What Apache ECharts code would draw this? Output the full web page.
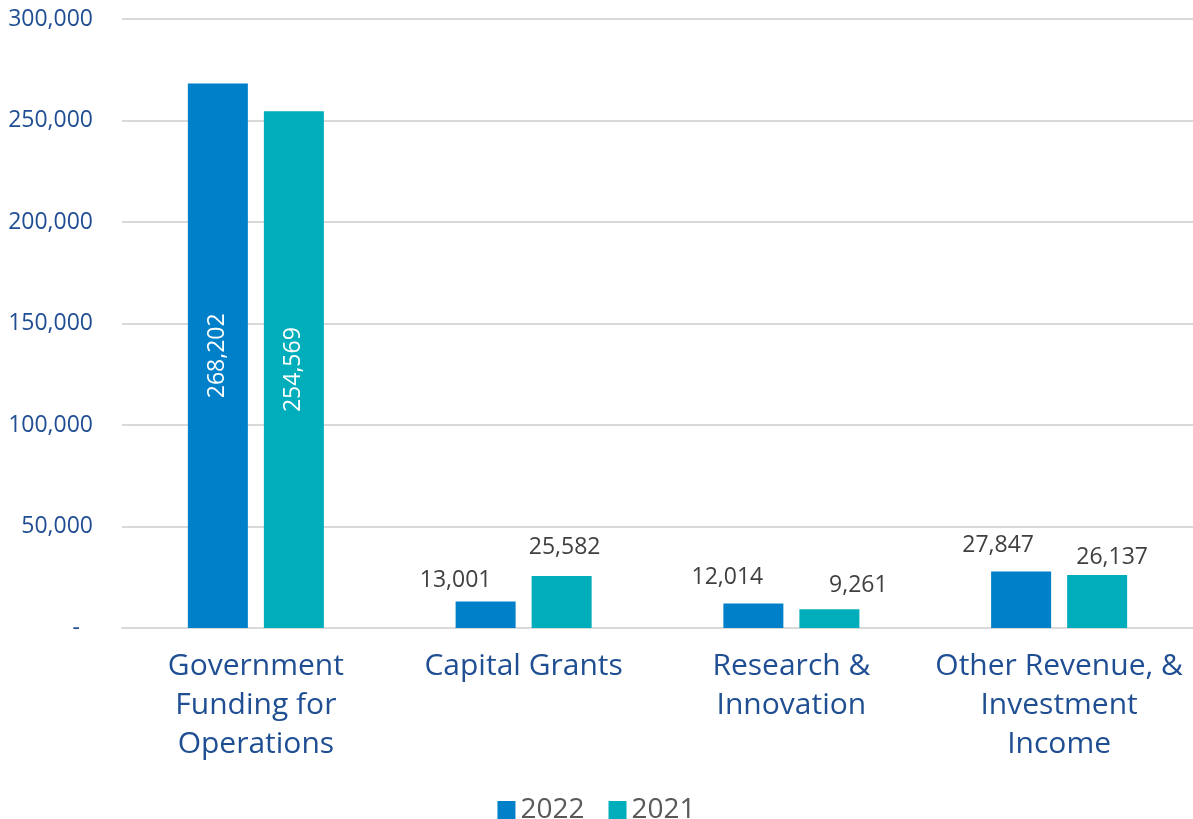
<!DOCTYPE html>
<html>
<head>
<meta charset="utf-8">
<script src="https://cdn.jsdelivr.net/npm/echarts@6/dist/echarts.min.js"></script>
<style>
  html, body { margin: 0; padding: 0; background: #ffffff; }
  #chart { width: 1193px; height: 819px; }
</style>
</head>
<body>
<div id="chart"></div>
<script>
// Revenue by source, two fiscal years
const categories = [
  'Government\nFunding for\nOperations',
  'Capital Grants',
  'Research &\nInnovation',
  'Other Revenue, &\nInvestment\nIncome'
];
const seriesNames = ['2022', '2021'];
const values2022 = [268202, 13001, 12014, 27847];
const values2021 = [254569, 25582, 9261, 26137];
const yTicks = [0, 50000, 100000, 150000, 200000, 250000, 300000];

// Label nudges for the short bars (the tall first pair carries its label inside)
const labelNudge2022 = [null, [-30, -10], [-26, -15], [-23, -15]];
const labelNudge2021 = [null, [3, -17], [29, -12], [15, -6]];

const FONT = '"Open Sans", "Noto Sans", sans-serif';
const fmt = v => v.toLocaleString('en-US');

function buildItems(values, nudges) {
  return values.map((v, i) => {
    if (!nudges[i]) {
      return {
        value: v,
        label: {
          show: true, position: 'inside', rotate: 90,
          color: '#ffffff', fontSize: 23, fontFamily: FONT,
          formatter: p => fmt(p.value)
        }
      };
    }
    return {
      value: v,
      label: {
        show: true, position: 'top', distance: 0, offset: nudges[i],
        color: '#404040', fontSize: 23, fontFamily: FONT,
        formatter: p => fmt(p.value)
      }
    };
  });
}

const chart = echarts.init(document.getElementById('chart'));
chart.setOption({
  animation: false,
  backgroundColor: '#ffffff',
  grid: { left: 122, right: 0, top: 19, bottom: 191, containLabel: false },
  legend: {
    data: seriesNames,
    top: 791,
    left: 'center',
    icon: 'rect',
    itemWidth: 18,
    itemHeight: 18,
    itemGap: 24,
    textStyle: { color: '#595959', fontSize: 28, fontFamily: FONT }
  },
  xAxis: {
    type: 'category',
    data: categories,
    axisLine: { show: true, lineStyle: { color: '#d9d9d9', width: 2 } },
    axisTick: { show: false },
    axisLabel: {
      interval: 0,
      margin: 19,
      color: '#1f4e93',
      fontSize: 30,
      lineHeight: 39,
      fontFamily: FONT
    }
  },
  yAxis: {
    type: 'value',
    min: yTicks[0],
    max: yTicks[yTicks.length - 1],
    interval: yTicks[1] - yTicks[0],
    axisLine: { show: false },
    axisTick: { show: false },
    splitLine: { lineStyle: { color: '#d9d9d9', width: 2 } },
    axisLabel: {
      margin: 29,
      color: '#1f4e93',
      fontSize: 23,
      fontFamily: FONT,
      formatter: v => v === 0 ? '{z|-}' : fmt(v),
      rich: { z: { padding: [0, 13, 0, 0], fontSize: 23, color: '#1f4e93', fontFamily: FONT } }
    }
  },
  series: [
    {
      name: seriesNames[0],
      type: 'bar',
      barWidth: 60,
      barGap: '26.7%',
      itemStyle: { color: '#0080c9' },
      data: buildItems(values2022, labelNudge2022)
    },
    {
      name: seriesNames[1],
      type: 'bar',
      barWidth: 60,
      barGap: '26.7%',
      itemStyle: { color: '#00adba' },
      data: buildItems(values2021, labelNudge2021)
    }
  ]
});
</script>
</body>
</html>
